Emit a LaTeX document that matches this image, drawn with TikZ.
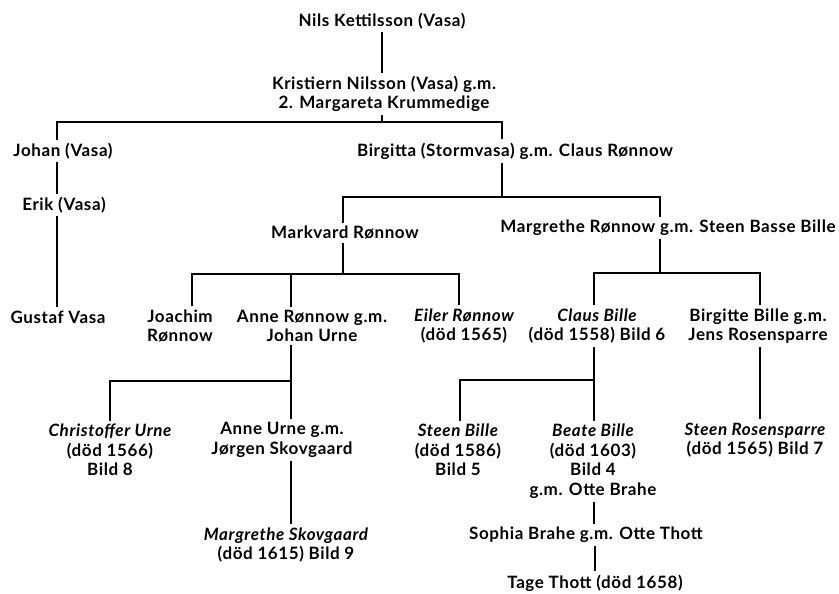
\documentclass[tikz,border=0pt]{standalone}
\usepackage{fontspec}
\setmainfont{Lato}[LetterSpace=3.5]
\begin{document}
\begin{tikzpicture}[x=1pt, y=-1pt, line width=1.8pt,
    person/.style={align=center, inner sep=2.5pt, font=\bfseries\fontsize{17}{19.5}\selectfont}]
  \useasboundingbox (0,0) rectangle (839,594);
  % persons
  \draw
    (382,21) node[person] (nils){Nils Kettilsson (Vasa)}
    (384,94) node[person] (kristiern){Kristiern Nilsson (Vasa) g.m.\\2. Margareta Krummedige}
    (63,151) node[person] (johan){Johan (Vasa)}
    (515,151) node[person] (birgitta){Birgitta (Stormvasa) g.m. Claus Rønnow}
    (64,205) node[person] (erik){Erik (Vasa)}
    (58,317) node[person] (gustaf){Gustaf Vasa}
    (345,233) node[person] (markvard){Markvard Rønnow}
    (668,228) node[person] (margrethe){Margrethe Rønnow g.m. Steen Basse Bille}
    (180,326) node[person] (joachim){Joachim\\Rønnow}
    (312,326) node[person] (anne){Anne Rønnow g.m.\\Johan Urne}
    (464,326) node[person] (eiler){\itshape Eiler Rønnow\\(död 1565)}
    (597,326) node[person] (claus){\itshape Claus Bille\\(död 1558) Bild 6}
    (758,326) node[person] (birgitte){Birgitte Bille g.m.\\Jens Rosensparre}
    (110,450) node[person] (christoffer){\itshape Christoffer Urne\\(död 1566)\\Bild 8}
    (282,440) node[person] (anneurne){Anne Urne g.m.\\Jørgen Skovgaard}
    (458,450) node[person] (steen){\itshape Steen Bille\\(död 1586)\\Bild 5}
    (593,461) node[person] (beate){\itshape Beate Bille\\(död 1603)\\Bild 4\\g.m. Otte Brahe}
    (755,440) node[person] (rosensparre){\itshape Steen Rosensparre\\(död 1565) Bild 7}
    (286,545) node[person] (skovgaard){\itshape Margrethe Skovgaard\\(död 1615) Bild 9}
    (586,535) node[person] (sophia){Sophia Brahe g.m. Otte Thott}
    (595,583) node[person] (tage){Tage Thott (död 1658)};
  % bars
  \coordinate (k1) at (382,122);
  \coordinate (k1a) at (57,122);
  \coordinate (k1b) at (502,122);
  \coordinate (b1) at (502,197);
  \coordinate (b1a) at (343,197);
  \coordinate (b1b) at (660,197);
  \coordinate (m1) at (343,274);
  \coordinate (m1a) at (192,274);
  \coordinate (m1b) at (291,274);
  \coordinate (m1c) at (459,274);
  \coordinate (r1) at (660,273);
  \coordinate (r1a) at (594,273);
  \coordinate (r1b) at (760,273);
  \coordinate (a1) at (291,381);
  \coordinate (a1a) at (110,381);
  \coordinate (c1) at (594,380);
  \coordinate (c1a) at (460,380);
  \begin{scope}[-]
    \draw (nils.south -| k1) -- (kristiern.north -| k1);
    \draw (kristiern.south -| k1) -- (k1);
    \draw (johan.north -| k1a) -- (k1a) -- (k1b) -- (birgitta.north -| k1b);
    \draw (johan.south -| k1a) -- (erik.north -| k1a);
    \draw (erik.south -| k1a) -- (gustaf.north -| k1a);
    \draw (birgitta.south -| b1) -- (b1);
    \draw (markvard.north -| b1a) -- (b1a) -- (b1b) -- (margrethe.north -| b1b);
    \draw (markvard.south -| m1) -- (m1);
    \draw (joachim.north -| m1a) -- (m1a) -- (m1c) -- (eiler.north -| m1c);
    \draw (m1b) -- (anne.north -| m1b);
    \draw (margrethe.south -| r1) -- (r1);
    \draw (claus.north -| r1a) -- (r1a) -- (r1b) -- (birgitte.north -| r1b);
    \draw (anne.south -| a1) -- (a1);
    \draw (christoffer.north -| a1a) -- (a1a) -- (a1) -- (anneurne.north -| a1);
    \draw (claus.south -| c1) -- (c1);
    \draw (steen.north -| c1a) -- (c1a) -- (c1) -- (beate.north -| c1);
    \draw (birgitte.south -| r1b) -- (rosensparre.north -| r1b);
    \draw (anneurne.south -| a1) -- (skovgaard.north -| a1);
    \draw (beate.south -| c1) -- (sophia.north -| c1);
    \draw (sophia.south -| tage) -- (tage);
  \end{scope}
\end{tikzpicture}
\end{document}
